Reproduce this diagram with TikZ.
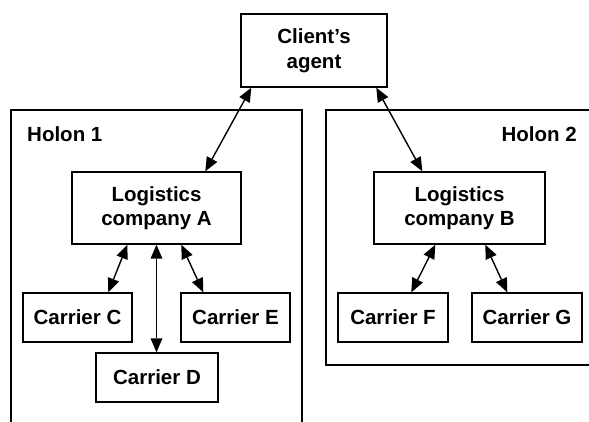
\documentclass[tikz,border=0pt]{standalone}
\usepackage{fontspec}
\setmainfont{Liberation Sans}
\usetikzlibrary{arrows.meta,calc}
\begin{document}
\begin{tikzpicture}[x=1pt,y=-1pt,
  box/.style={draw,line width=1.4pt,rectangle,inner sep=0pt,align=center,
    font=\fontsize{20.5}{24.6}\selectfont\bfseries},
  tipx/.tip={Triangle[length=14pt,width=12pt,line width=0pt]},
  link/.style={line width=1.4pt,tipx-tipx},
  frame/.style={line width=1.4pt},
  lbl/.style={font=\fontsize{20.5}{24.6}\selectfont\bfseries,inner sep=0pt}]
\useasboundingbox (0,0) rectangle (589,421);
\begin{scope}
\clip (0,0) rectangle (589,421);
\draw[frame] (11,430) -- (11,110) -- (302,110) -- (302,430);
\draw[frame] (600,110) -- (326,110) -- (326,365) -- (600,365);
\end{scope}
\node[lbl,anchor=west] (h1) at (27,134) {Holon 1};
\node[lbl,anchor=east] (h2) at (577,134) {Holon 2};
\node[box,minimum width=146pt,minimum height=73pt] (cl) at (314,50.5) {Client’s\\agent};
\node[box,minimum width=169pt,minimum height=72pt] (la) at (156.5,208) {Logistics\\company A};
\node[box,minimum width=171pt,minimum height=72pt] (lb) at (459.5,208) {Logistics\\company B};
\node[box,minimum width=109pt,minimum height=49pt] (cc) at (77.5,317.5) {Carrier C};
\node[box,minimum width=109pt,minimum height=49pt] (ce) at (235.5,317.5) {Carrier E};
\node[box,minimum width=122pt,minimum height=49pt] (cd) at (157,377.5) {Carrier D};
\node[box,minimum width=110pt,minimum height=49pt] (cf) at (393,317.5) {Carrier F};
\node[box,minimum width=110pt,minimum height=49pt] (cg) at (527,317.5) {Carrier G};
\draw[link] ($(cl.south west)+(11,0)$) -- ($(la.north west)+(134,0)$);
\draw[link] ($(cl.south west)+(136,0)$) -- ($(lb.north west)+(49,0)$);
\draw[link] ($(la.south west)+(56,0)$) -- ($(cc.north west)+(86,0)$);
\draw[link] (la.south) -- (la.south |- cd.north);
\draw[link] ($(la.south west)+(110,0)$) -- ($(ce.north west)+(23,0)$);
\draw[link] ($(lb.south west)+(62,0)$) -- ($(cf.north west)+(74,0)$);
\draw[link] ($(lb.south west)+(112,0)$) -- ($(cg.north west)+(36,0)$);
\end{tikzpicture}
\end{document}
